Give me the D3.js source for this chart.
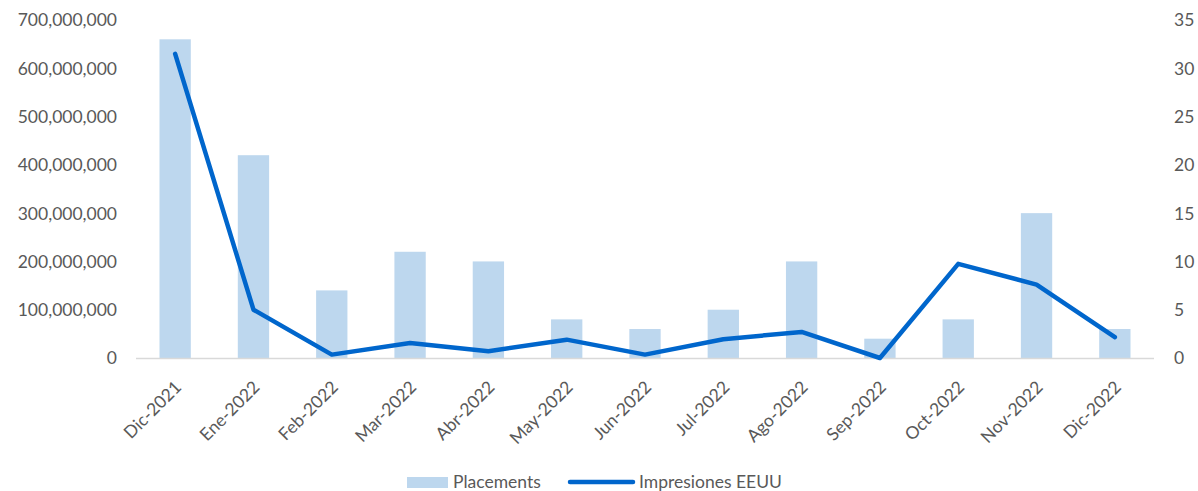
<!DOCTYPE html>
<html>
<head>
<meta charset="utf-8">
<script src="https://cdn.jsdelivr.net/npm/d3@7"></script>
<style>
  body { margin: 0; background: #fff; }
  svg text { font-family: Lato, "Open Sans", sans-serif; fill: #595959; }
</style>
</head>
<body>
<svg id="chart" width="1198" height="491"></svg>
<script>
let months = ["Dic-2021", "Ene-2022", "Feb-2022", "Mar-2022", "Abr-2022", "May-2022", "Jun-2022",
  "Jul-2022", "Ago-2022", "Sep-2022", "Oct-2022", "Nov-2022", "Dic-2022"];
let placements = [33, 21, 7, 11, 10, 4, 3, 5, 10, 2, 4, 15, 3];
let impresiones = [630000000, 100000000, 7000000, 31000000, 14000000, 38000000, 7000000,
  39000000, 54000000, 0, 195000000, 152000000, 43000000];
let leftTicks = [0, 100000000, 200000000, 300000000, 400000000, 500000000, 600000000, 700000000];
let rightTicks = [0, 5, 10, 15, 20, 25, 30, 35];

let margin = {top: 20, right: 44, bottom: 133, left: 136};
let width = 1198 - margin.left - margin.right;
let height = 491 - margin.top - margin.bottom;

let svg = d3.select("#chart");
let g = svg.append("g")
  .attr("transform", "translate(" + margin.left + "," + margin.top + ")");

let x = d3.scaleBand().domain(months).range([0, width]).paddingInner(0.6).paddingOuter(0.3);
let xc = function(d) { return x(d) + x.bandwidth() / 2; };
let yL = d3.scaleLinear().domain([0, 700000000]).range([height, 0]);
let yR = d3.scaleLinear().domain([0, 35]).range([height, 0]);

// left axis
let leftAxis = g.append("g")
  .call(d3.axisLeft(yL).tickValues(leftTicks).tickSize(0).tickPadding(19).tickFormat(d3.format(",")));
leftAxis.select(".domain").remove();
leftAxis.selectAll("text").style("font-size", "17.5px").attr("dy", "0.34em");

// right axis
let rightAxis = g.append("g")
  .attr("transform", "translate(" + width + ",0)")
  .call(d3.axisRight(yR).tickValues(rightTicks).tickSize(0).tickPadding(20));
rightAxis.select(".domain").remove();
rightAxis.selectAll("text").style("font-size", "17.5px").attr("dy", "0.34em");

// bars
g.selectAll(".bar").data(months).enter().append("rect")
  .attr("x", function(d) { return x(d); })
  .attr("y", function(d, i) { return yR(placements[i]); })
  .attr("width", x.bandwidth())
  .attr("height", function(d, i) { return height - yR(placements[i]); })
  .attr("fill", "#bdd7ee");

// baseline
g.append("line")
  .attr("x1", 0).attr("x2", width)
  .attr("y1", height + 0.5).attr("y2", height + 0.5)
  .attr("stroke", "#d9d9d9").attr("stroke-width", 1.5);

// line
let line = d3.line()
  .x(function(d, i) { return xc(months[i]); })
  .y(function(d) { return yL(d); });
g.append("path").attr("d", line(impresiones))
  .attr("fill", "none")
  .attr("stroke", "#0066cc")
  .attr("stroke-width", 4.5)
  .attr("stroke-linejoin", "round")
  .attr("stroke-linecap", "round");

// x labels
g.selectAll(".xlabel").data(months).enter().append("text")
  .attr("transform", function(d) { return "translate(" + (xc(d) + 3) + "," + (height + 26) + ") rotate(-45)"; })
  .attr("text-anchor", "end")
  .attr("dy", "0.35em")
  .style("font-size", "17.5px")
  .text(function(d) { return d; });

// legend
let legend = svg.append("g");
legend.append("rect")
  .attr("x", 407).attr("y", 477).attr("width", 41).attr("height", 11)
  .attr("fill", "#bdd7ee");
legend.append("text")
  .attr("x", 453).attr("y", 488)
  .style("font-size", "17.5px")
  .text("Placements");
legend.append("line")
  .attr("x1", 570).attr("x2", 633).attr("y1", 482).attr("y2", 482)
  .attr("stroke", "#0066cc").attr("stroke-width", 4.5).attr("stroke-linecap", "round");
legend.append("text")
  .attr("x", 639).attr("y", 488)
  .style("font-size", "17.5px")
  .text("Impresiones EEUU");
</script>
</body>
</html>
